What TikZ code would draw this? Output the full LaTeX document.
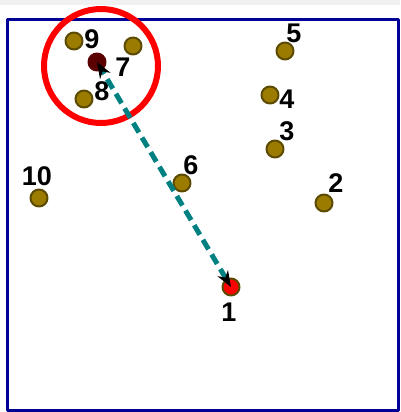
\documentclass[tikz,border=0pt]{standalone}
\usepackage{fontspec}
\setmainfont{Liberation Sans}
\usetikzlibrary{arrows.meta}
\definecolor{olivept}{RGB}{155,124,0}
\definecolor{olivedark}{RGB}{92,74,0}
\definecolor{maroonpt}{RGB}{90,0,0}
\definecolor{tealline}{RGB}{0,128,128}
\definecolor{boxnavy}{RGB}{0,0,150}
\begin{document}
\begin{tikzpicture}[x=1pt, y=-1pt, line cap=round, line join=round,
    pt/.style={circle, draw=olivedark, fill=olivept, line width=2pt,
      minimum size=17pt, inner sep=0pt},
    lbl/.style={inner sep=0pt, font=\fontsize{27}{27}\selectfont\bfseries},
    link/.style={draw=tealline, line width=5pt, line cap=butt,
      dash pattern=on 11pt off 6pt,
      {Stealth[length=16pt, width=12pt, inset=5pt, black]}-{Stealth[length=16pt, width=12pt, inset=5pt, black]}}]
  \useasboundingbox (0,0) rectangle (400,412);
  % grauer Streifen oben und Rahmen
  \fill[black!6] (0,0) rectangle (400,5);
  \draw[boxnavy, line width=3pt, line cap=butt] (7,19.5) rectangle (398.5,410.5);
  % Punkte
  \node[pt, fill=red] (p1) at (231,287) {};
  \node[pt] (p2) at (324,203) {};
  \node[pt] (p3) at (275,149) {};
  \node[pt] (p4) at (270,95) {};
  \node[pt] (p5) at (285,51) {};
  \node[pt] (p6) at (182,183) {};
  \node[pt, fill=maroonpt, draw=maroonpt] (p7) at (97,62) {};
  \node[pt] (p8) at (84,99) {};
  \node[pt] (p9) at (74,41) {};
  \node[pt] (p10) at (39,198) {};
  \node[pt] (q) at (133,46) {};
  % Nummern
  \node[lbl] (l1) at (229,312) {1};
  \node[lbl] (l2) at (336,183) {2};
  \node[lbl] (l3) at (287,131) {3};
  \node[lbl] (l4) at (287,99) {4};
  \node[lbl] (l5) at (294,33) {5};
  \node[lbl] (l6) at (191,165) {6};
  \node[lbl] (l7) at (123,67) {7};
  \node[lbl] (l8) at (102,91) {8};
  \node[lbl] (l9) at (92,39) {9};
  \node[lbl] (l10) at (37,176) {10};
  % Auswahlkreis
  \node[circle, draw=red, line width=6pt, minimum size=114pt, inner sep=0pt] (sel) at (101,66) {};
  % Verbindung
  \draw[link] (p1.center) -- (p7.center);
\end{tikzpicture}
\end{document}
